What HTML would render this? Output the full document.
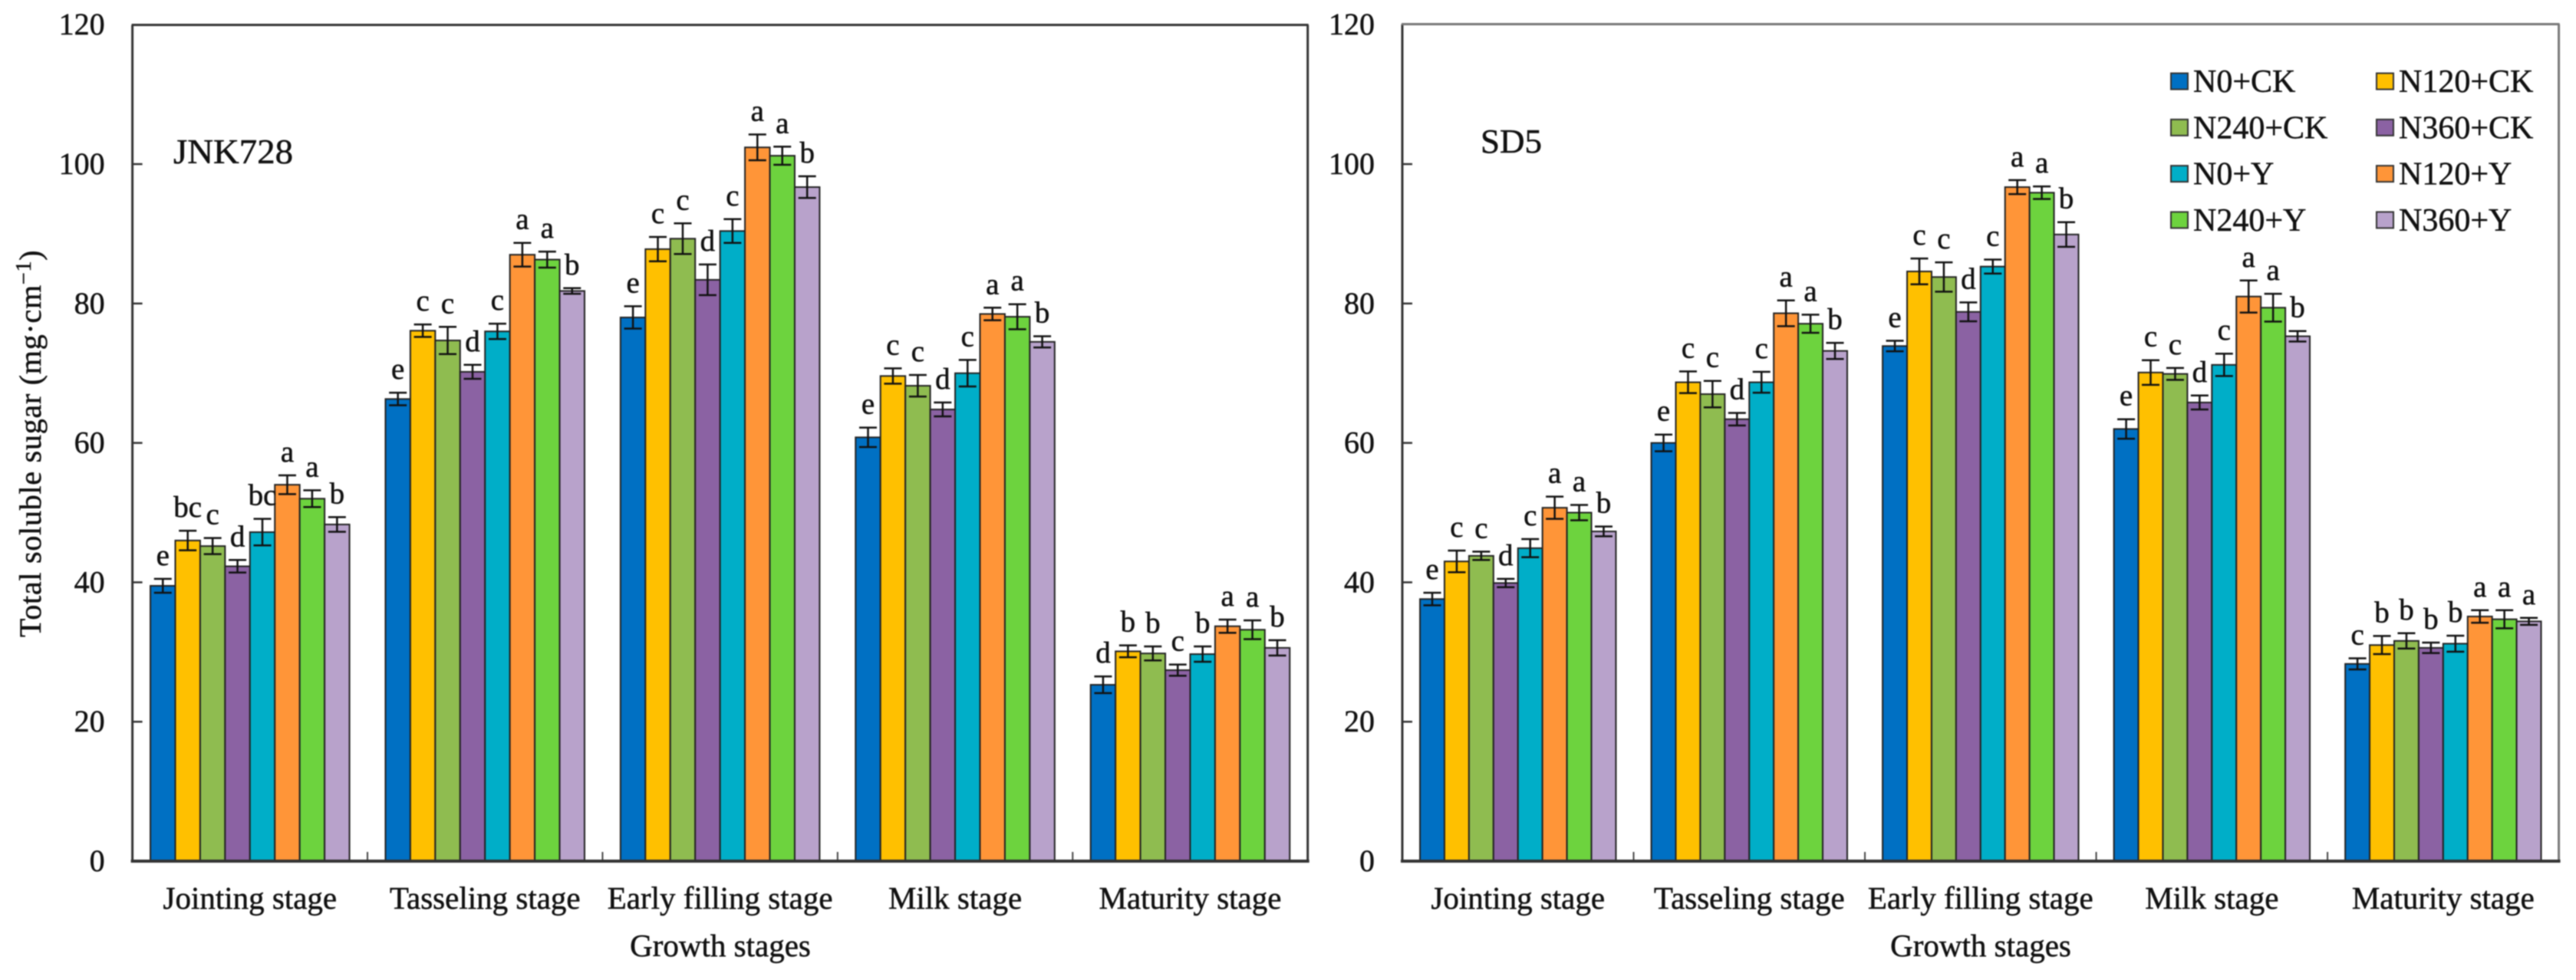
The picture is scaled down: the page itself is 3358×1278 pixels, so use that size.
<!DOCTYPE html>
<html lang="en">
<head>
<meta charset="utf-8">
<title>Total soluble sugar by growth stage</title>
<style>
html,body{margin:0;padding:0;background:#fff;}
svg{display:block;font-family:"Liberation Serif",serif;fill:#111;filter:blur(0.7px);}
svg text{stroke:#111;stroke-width:0.5px;}
</style>
</head>
<body>
<svg id="chart" width="3358" height="1278" viewBox="0 0 3358 1278" xmlns="http://www.w3.org/2000/svg">
  <rect x="0" y="0" width="3358" height="1278" fill="#fff"/>
  <text transform="translate(53,831) rotate(-90)" font-size="40" letter-spacing="0.75">Total soluble sugar (mg·cm<tspan dy="-13" font-size="28">−1</tspan><tspan dy="13">)</tspan></text>
  <text x="226" y="213" font-size="45" textLength="156" lengthAdjust="spacingAndGlyphs">JNK728</text>
  <text x="1930" y="199" font-size="44" textLength="80" lengthAdjust="spacingAndGlyphs">SD5</text>
  <text x="939" y="1247" font-size="41" text-anchor="middle">Growth stages</text>
  <text x="2582" y="1247" font-size="41" text-anchor="middle">Growth stages</text>
  <g id="legend"></g>
</svg>
<script>
const stages = ["Jointing stage", "Tasseling stage", "Early filling stage", "Milk stage", "Maturity stage"];
const treatments = ["N0+CK", "N120+CK", "N240+CK", "N360+CK", "N0+Y", "N120+Y", "N240+Y", "N360+Y"];
const yTicks = [0, 20, 40, 60, 80, 100, 120];

const jnkValues = [
  [39.5, 46.0, 45.2, 42.3, 47.2, 54.0, 52.0, 48.3],
  [66.3, 76.1, 74.7, 70.2, 76.0, 87.0, 86.3, 81.8],
  [78.0, 87.8, 89.3, 83.4, 90.4, 102.4, 101.2, 96.7],
  [60.8, 69.6, 68.2, 64.8, 70.0, 78.5, 78.1, 74.5],
  [25.3, 30.1, 29.8, 27.4, 29.7, 33.7, 33.2, 30.6]
];
const jnkErrors = [
  [1.0, 1.4, 1.15, 0.9, 1.9, 1.35, 1.2, 1.05],
  [0.9, 0.9, 1.95, 1.0, 1.1, 1.7, 1.15, 0.4],
  [1.6, 1.75, 2.2, 2.2, 1.7, 1.85, 1.3, 1.55],
  [1.4, 1.1, 1.55, 1.0, 1.9, 0.9, 1.8, 0.8],
  [1.2, 0.85, 1.0, 0.8, 1.1, 0.95, 1.35, 1.1]
];
const jnkLetters = [
  ["e", "bc", "c", "d", "bc", "a", "a", "b"],
  ["e", "c", "c", "d", "c", "a", "a", "b"],
  ["e", "c", "c", "d", "c", "a", "a", "b"],
  ["e", "c", "c", "d", "c", "a", "a", "b"],
  ["d", "b", "b", "c", "b", "a", "a", "b"]
];

const sdValues = [
  [37.6, 43.0, 43.8, 39.9, 44.9, 50.7, 50.0, 47.3],
  [60.0, 68.7, 67.0, 63.4, 68.7, 78.6, 77.1, 73.2],
  [73.9, 84.6, 83.8, 78.8, 85.3, 96.7, 95.9, 89.9],
  [62.0, 70.1, 69.9, 65.8, 71.2, 81.0, 79.4, 75.3],
  [28.3, 31.0, 31.6, 30.6, 31.2, 35.1, 34.7, 34.4]
];
const sdErrors = [
  [0.9, 1.55, 0.6, 0.6, 1.3, 1.6, 1.1, 0.7],
  [1.2, 1.55, 1.9, 0.9, 1.5, 1.85, 1.3, 1.15],
  [0.75, 1.85, 2.1, 1.35, 1.0, 1.0, 0.9, 1.77],
  [1.4, 1.77, 0.85, 1.0, 1.6, 2.3, 2.0, 0.75],
  [0.8, 1.3, 1.1, 0.75, 1.15, 0.9, 1.3, 0.5]
];
const sdLetters = [
  ["e", "c", "c", "d", "c", "a", "a", "b"],
  ["e", "c", "c", "d", "c", "a", "a", "b"],
  ["e", "c", "c", "d", "c", "a", "a", "b"],
  ["e", "c", "c", "d", "c", "a", "a", "b"],
  ["c", "b", "b", "b", "b", "a", "a", "a"]
];

const palette = ["#0070c3", "#ffc000", "#8fbc50", "#8b62a3", "#00aec8", "#ff9538", "#6dd33e", "#b8a2cb"];
const NS = "http://www.w3.org/2000/svg";
const svg = document.getElementById("chart");

function make(tag, attrs, parent, text) {
  const el = document.createElementNS(NS, tag);
  for (const k in attrs) el.setAttribute(k, attrs[k]);
  if (text !== undefined) el.textContent = text;
  parent.appendChild(el);
  return el;
}

const yScale = v => 1123 - v * 9.09;

function drawPanel(panelName, left, right, top, frameColor, values, errors, letters) {
  const band = (right - left) / stages.length;
  const barW = band * 0.847 / treatments.length;
  const pad = (band - barW * treatments.length) / 2;
  const barX = (s, t) => left + band * s + pad + barW * t;

  const g = make("g", {}, svg);
  
  

  const frameLeft = make("line", {x1: left, y1: top, x2: left, y2: 1123, stroke: "#333", "stroke-width": 3}, g);
  
  
  const frameTop = make("line", {x1: left - 1, y1: top, x2: right + 1, y2: top, stroke: frameColor, "stroke-width": 3}, g);
  
  
  const frameRight = make("line", {x1: right, y1: top, x2: right, y2: 1123, stroke: frameColor, "stroke-width": 3}, g);
  
  

  yTicks.forEach(t => {
    const y = yScale(t);
    if (t > 0 && t < 120) {
      const tick = make("line", {x1: left, y1: y, x2: left + 13, y2: y, stroke: "#333", "stroke-width": 2.5}, g);
      
      
    }
    const label = make("text", {x: left - 36, y: y + 13, "font-size": 40, "text-anchor": "end"}, g, String(t));
    
    
  });

  stages.forEach((stage, s) => {
    if (s > 0) {
      const tick = make("line", {x1: left + band * s, y1: 1123, x2: left + band * s, y2: 1111, stroke: "#444", "stroke-width": 2}, g);
      
      
    }
    const label = make("text", {x: left + band * (s + 0.5), y: 1185, "font-size": 41, "text-anchor": "middle"}, g, stage);
    
    

    treatments.forEach((tr, t) => {
      const v = values[s][t];
      const bar = make("rect", {x: barX(s, t), y: yScale(v), width: barW, height: 1123 - yScale(v), fill: palette[t], stroke: "#222", "stroke-width": 2}, g);
      
      
    });
  });

  stages.forEach((stage, s) => {
    treatments.forEach((tr, t) => {
      const v = values[s][t];
      const e = errors[s][t];
      const cx = barX(s, t) + barW / 2;
      const err = make("path", {
        d: "M" + (cx - 11.5) + " " + yScale(v + e) + "H" + (cx + 11.5) +
           "M" + cx + " " + yScale(v + e) + "V" + yScale(v - e) +
           "M" + (cx - 11.5) + " " + yScale(v - e) + "H" + (cx + 11.5),
        fill: "none", stroke: "#111", "stroke-width": 2.5
      }, g);
      
      
      const sig = make("text", {x: cx, y: yScale(v + e) - 18, "font-size": 39, "text-anchor": "middle"}, g, letters[s][t]);
      
      
    });
  });

  const base = make("line", {x1: left - 2, y1: 1123, x2: right + 2, y2: 1123, stroke: "#333", "stroke-width": 4}, g);
  
  
}

drawPanel("jnk728", 172.6, 1704.7, 32.5, "#333", jnkValues, jnkErrors, jnkLetters);
drawPanel("sd5", 1828, 3335.6, 31.5, "#777", sdValues, sdErrors, sdLetters);

const legend = document.getElementById("legend");
svg.appendChild(legend);
treatments.forEach((name, i) => {
  const col = i % 2;
  const row = Math.floor(i / 2);
  const sx = col === 0 ? 2830 : 3098;
  const cy = 106 + row * 60.3;
  const entry = make("g", {}, legend);
  
  
  const swatch = make("rect", {x: sx, y: cy - 10.5, width: 22, height: 21, fill: palette[i], stroke: "#333", "stroke-width": 2}, entry);
  
  
  const label = make("text", {x: sx + 29, y: cy + 14, "font-size": 42}, entry, name);
  
  
});
</script>
</body>
</html>
